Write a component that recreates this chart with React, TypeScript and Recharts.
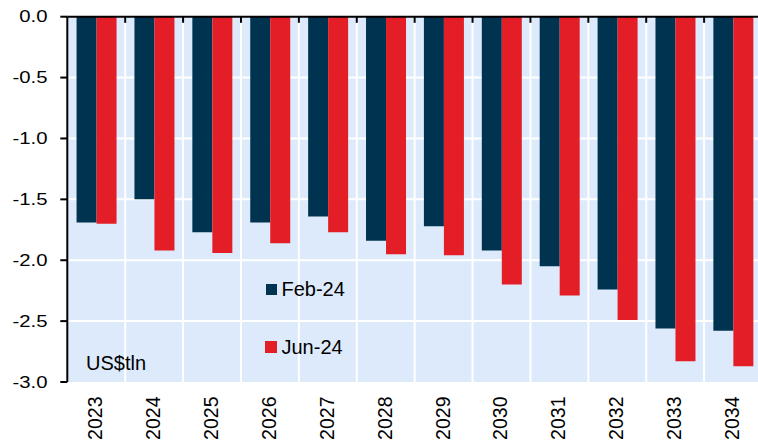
import React from "react";
import {
  BarChart,
  Bar,
  XAxis,
  YAxis,
  CartesianGrid,
  Legend,
  ReferenceLine,
} from "recharts";

const years = ["2023", "2024", "2025", "2026", "2027", "2028", "2029", "2030", "2031", "2032", "2033", "2034"];
const feb24 = [-1.69, -1.5, -1.77, -1.69, -1.64, -1.84, -1.72, -1.92, -2.05, -2.24, -2.56, -2.58];
const jun24 = [-1.7, -1.92, -1.94, -1.86, -1.77, -1.95, -1.96, -2.2, -2.29, -2.49, -2.83, -2.87];
const yTicks = [0, -0.5, -1, -1.5, -2, -2.5, -3];

const NAVY = "#003350";
const RED = "#E31E26";
const BG = "#DDEAFB";
const FONT = "'Liberation Sans', Arial, sans-serif";
const TICK_DEPTH = 0.05; // length of the small marks under the zero line, in axis units

const data = years.map((year, i) => ({
  year,
  "Feb-24": feb24[i],
  "Jun-24": jun24[i],
}));

const YTick = ({ x, y, payload }: any) => (
  <text
    transform={`translate(${x},${y}) scale(1.27,1)`}
    textAnchor="end"
    dominantBaseline="central"
    fontFamily={FONT}
    fontSize={16}
    fill="#000"
  >
    {Number(payload.value).toFixed(1)}
  </text>
);

const XTick = ({ x, y, payload }: any) => (
  <text
    transform={`translate(${x - 1},${y}) rotate(-90)`}
    textAnchor="end"
    dominantBaseline="central"
    fontFamily={FONT}
    fontSize={19.5}
    fill="#000"
  >
    {payload.value}
  </text>
);

// horizontal grid lines for the inner ticks only (the zero line is drawn black)
const innerRows = ({ offset }: any) => {
  const n = yTicks.length - 1;
  return yTicks.slice(1, -1).map((_, i) => offset.top + (offset.height * (i + 1)) / n);
};

const LegendBox = () => {
  const items = [
    { name: "Feb-24", color: NAVY, top: 0, sq: 11 },
    { name: "Jun-24", color: RED, top: 58.6, sq: 12 },
  ];
  return (
    <div style={{ position: "relative", width: 120, height: 80 }}>
      {items.map((it) => (
        <div
          key={it.name}
          style={{
            position: "absolute",
            left: 0,
            top: it.top,
            height: 20,
            lineHeight: "20px",
            fontFamily: FONT,
            fontSize: 20,
            color: "#000",
            whiteSpace: "nowrap",
          }}
        >
          <span
            style={{
              position: "absolute",
              left: it.sq === 11 ? 1 : 0,
              top: it.sq === 11 ? 5 : 4,
              width: it.sq,
              height: it.sq,
              background: it.color,
            }}
          />
          <span style={{ position: "absolute", left: 16.5 }}>{it.name}</span>
        </div>
      ))}
    </div>
  );
};

export default function App() {
  return (
    <div
      style={{
        position: "absolute",
        left: 0,
        top: 0,
        width: 758,
        height: 443,
        overflow: "hidden",
        background: "#fff",
      }}
    >
      <BarChart
        width={762}
        height={443}
        data={data}
        margin={{ top: 16.7, right: 0, bottom: 0, left: 0.3 }}
        barCategoryGap="16%"
        barGap={0}
      >
        <CartesianGrid
          fill={BG}
          fillOpacity={1}
          stroke="#fff"
          strokeWidth={2}
          vertical={false}
          horizontalCoordinatesGenerator={innerRows}
        />
        <Bar dataKey="Feb-24" fill={NAVY} isAnimationActive={false} />
        <Bar dataKey="Jun-24" fill={RED} isAnimationActive={false} />
        <XAxis
          dataKey="year"
          height={61}
          axisLine={false}
          tickLine={false}
          tickSize={0}
          tickMargin={14.5}
          interval={0}
          tick={<XTick />}
        />
        <YAxis
          width={67}
          domain={[-3, 0]}
          ticks={yTicks}
          interval={0}
          tickSize={7}
          tickMargin={12.8}
          axisLine={{ stroke: "#000", strokeWidth: 2 }}
          tickLine={{ stroke: "#000", strokeWidth: 2 }}
          tick={<YTick />}
        />
        {years.slice(1).map((yr) => (
          <ReferenceLine
            key={`grid-${yr}`}
            x={yr}
            position="start"
            stroke="#fff"
            strokeWidth={2}
          />
        ))}
        <ReferenceLine y={0} stroke="#000" strokeWidth={2} />
        {years.slice(1).map((yr) => (
          <ReferenceLine
            key={`tick-${yr}`}
            segment={[
              { x: yr, y: 0 },
              { x: yr, y: -TICK_DEPTH },
            ]}
            position="start"
            stroke="#000"
            strokeWidth={2}
          />
        ))}
        <Legend
          layout="vertical"
          align="center"
          verticalAlign="middle"
          wrapperStyle={{ left: 265, top: 278.8, width: 120 }}
          content={<LegendBox />}
        />
      </BarChart>
      <div
        style={{
          position: "absolute",
          left: 86,
          top: 353,
          lineHeight: "20px",
          fontFamily: FONT,
          fontSize: 20,
          color: "#000",
          whiteSpace: "nowrap",
        }}
      >
        US$tln
      </div>
    </div>
  );
}
